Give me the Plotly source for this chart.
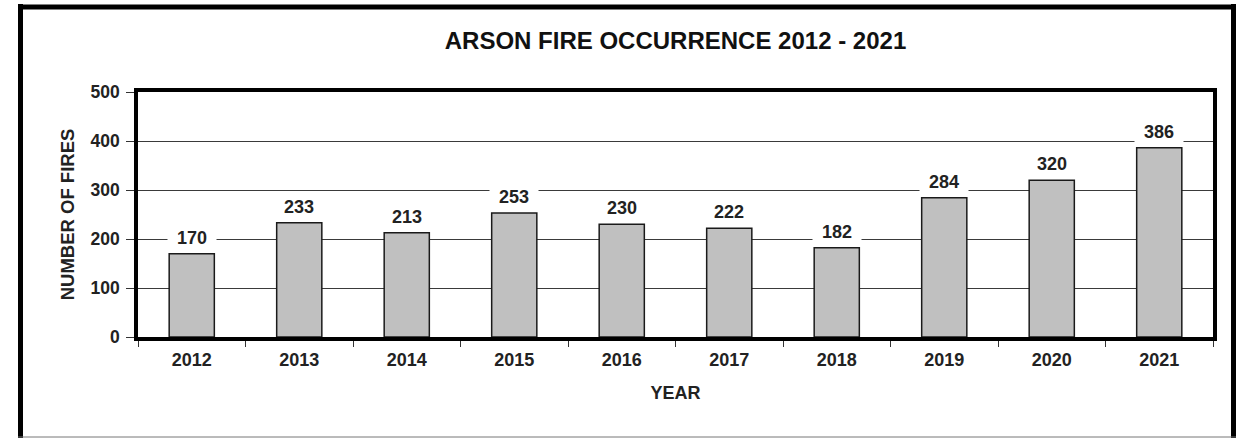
import plotly.graph_objects as go

years = ["2012", "2013", "2014", "2015", "2016", "2017", "2018", "2019", "2020", "2021"]
fires = [170, 233, 213, 253, 230, 222, 182, 284, 320, 386]
y_ticks = [0, 100, 200, 300, 400, 500]

FONT = "Liberation Sans, Arial, sans-serif"
W, H = 1240, 441
L, R, T, B = 138, 1213, 92, 337  # plot area in pixels


def px(xp):
    return (xp - L) / (R - L)


def py(yp):
    return (B - yp) / (B - T)


fig = go.Figure()
fig.add_trace(go.Bar(
    x=years, y=fires,
    marker=dict(color="#c0c0c0", line=dict(color="#1a1a1a", width=1.5)),
    width=0.42,
    hoverinfo="x+y",
))

for i, v in enumerate(fires):
    fig.add_annotation(
        x=i, y=v, text=f"\u00a0{v}\u00a0", showarrow=False,
        yanchor="bottom", yshift=1, bgcolor="white", borderpad=4,
        font=dict(family=FONT, size=18, color="#222222", weight="bold"),
    )

fig.update_layout(
    width=W, height=H,
    margin=dict(l=L, r=W - R, t=T, b=H - B),
    paper_bgcolor="white", plot_bgcolor="white",
    showlegend=False,
    title=dict(text="ARSON FIRE OCCURRENCE 2012 - 2021", x=0.5, xref="paper",
               xanchor="center", y=1 - 41 / H, yanchor="middle",
               font=dict(family=FONT, size=24, color="#111111", weight="bold")),
    font=dict(family=FONT, color="#222222"),
)
fig.update_xaxes(
    type="category", range=[-0.5, len(years) - 0.5],
    showline=True, linecolor="black", linewidth=3.5, mirror=True,
    ticks="outside", tickson="boundaries", ticklen=6, tickcolor="#333333",
    ticklabelstandoff=4,
    tickfont=dict(family=FONT, size=18, color="#222222", weight="bold"),
    title=dict(text="YEAR", font=dict(family=FONT, size=18, color="#222222", weight="bold"), standoff=18),
    showgrid=False,
)
fig.update_yaxes(
    range=[0, 500], tickvals=y_ticks,
    showline=True, linecolor="black", linewidth=3.5, mirror=True,
    ticks="outside", ticklen=8, tickcolor="#333333",
    ticklabelstandoff=3,
    tickfont=dict(family=FONT, size=17.5, color="#222222", weight="bold"),
    showgrid=True, gridcolor="#3a3a3a", gridwidth=1,
    zeroline=False,
    title=dict(text="NUMBER OF FIRES", font=dict(family=FONT, size=18.5, color="#222222", weight="bold"), standoff=12),
)

# outer frame (thick left/top/right, thin bottom)
frame = dict(xref="paper", yref="paper", type="line", layer="above")
fig.add_shape(**frame, x0=px(20.5), x1=px(20.5), y0=py(4), y1=py(438), line=dict(color="black", width=5))
fig.add_shape(**frame, x0=px(18), x1=px(1236), y0=py(7), y1=py(7), line=dict(color="black", width=5))
fig.add_shape(**frame, x0=px(1233.5), x1=px(1233.5), y0=py(4), y1=py(438), line=dict(color="black", width=5))
fig.add_shape(**frame, x0=px(18), x1=px(1236), y0=py(437), y1=py(437), line=dict(color="#777777", width=1))

fig.write_html("out.html", config={"displayModeBar": False},
               post_script="document.body.style.margin='0px';")
